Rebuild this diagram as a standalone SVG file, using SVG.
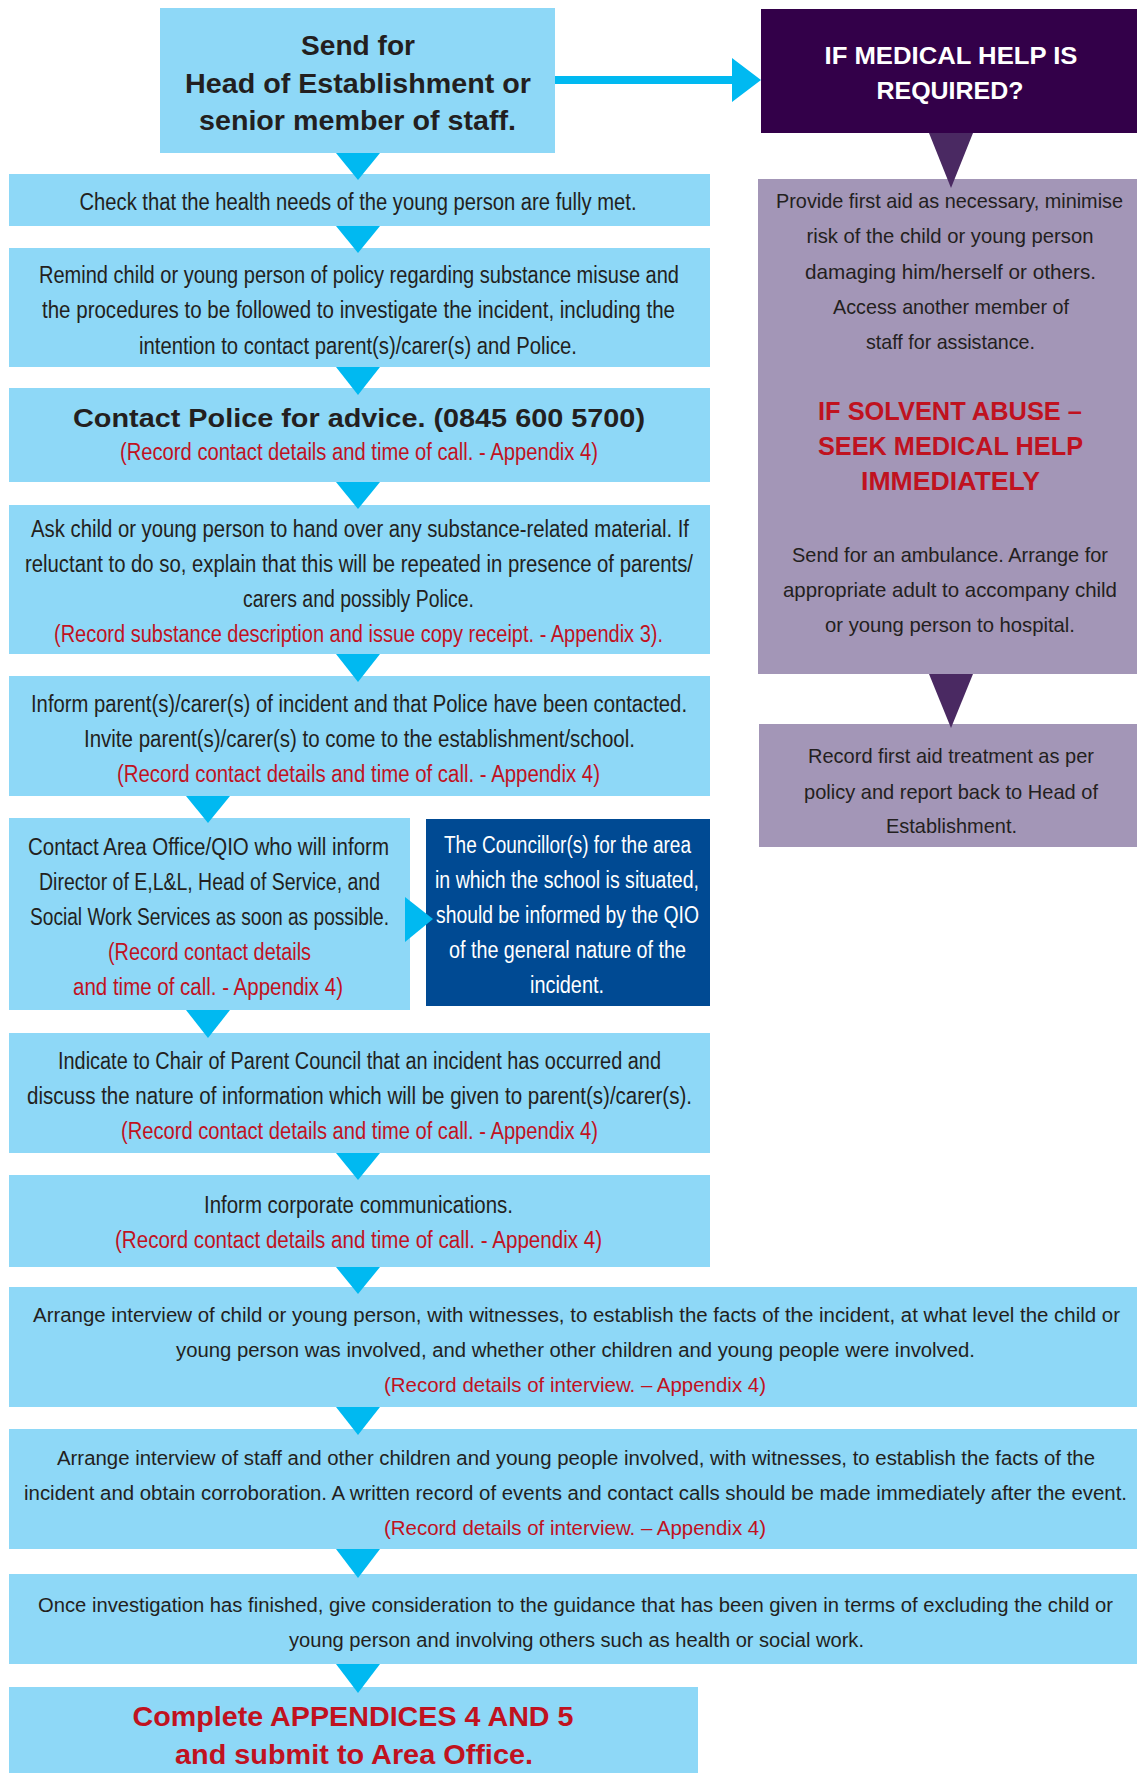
<svg xmlns="http://www.w3.org/2000/svg" width="1137" height="1773" viewBox="0 0 1137 1773">
<style>
.box{fill:#8ed8f7}
.lilac{fill:#a396b7}
.t{font-family:"Liberation Sans Narrow","Liberation Sans",Arial,sans-serif;font-size:23px;fill:#231f20;text-anchor:middle}
.r{fill:#c0121f}
.w{fill:#ffffff}
.b{font-weight:bold}
.big{font-size:28px}
.md{font-size:25px}
.pu{font-size:21px}
.sm{font-size:20px}
.tri{fill:#00b9f1}
.ptri{fill:#4a2962}
</style>
<rect width="1137" height="1773" fill="#ffffff"/>

<g id="n-send">
<rect class="box" x="160" y="8" width="395" height="145"/>
<text class="t b big" x="358" y="55" textLength="114" lengthAdjust="spacingAndGlyphs">Send for</text>
<text class="t b big" x="358" y="93" textLength="346" lengthAdjust="spacingAndGlyphs">Head of Establishment or</text>
<text class="t b big" x="357.5" y="130" textLength="317" lengthAdjust="spacingAndGlyphs">senior member of staff.</text>
</g>

<g id="n-medical">
<rect x="761" y="9" width="376" height="124" fill="#330049"/>
<text class="t b w" x="951" y="64" textLength="253" lengthAdjust="spacingAndGlyphs">IF MEDICAL HELP IS</text>
<text class="t b w" x="950" y="99" textLength="147" lengthAdjust="spacingAndGlyphs">REQUIRED?</text>
</g>

<g id="n-check">
<rect class="box" x="9" y="174" width="701" height="52"/>
<text class="t" x="358" y="210" textLength="557" lengthAdjust="spacingAndGlyphs">Check that the health needs of the young person are fully met.</text>
</g>

<g id="n-remind">
<rect class="box" x="9" y="248" width="701" height="119"/>
<text class="t" x="359" y="283" textLength="640" lengthAdjust="spacingAndGlyphs">Remind child or young person of policy regarding substance misuse and</text>
<text class="t" x="358.5" y="318" textLength="633" lengthAdjust="spacingAndGlyphs">the procedures to be followed to investigate the incident, including the</text>
<text class="t" x="358" y="354" textLength="438" lengthAdjust="spacingAndGlyphs">intention to contact parent(s)/carer(s) and Police.</text>
</g>

<g id="n-police">
<rect class="box" x="9" y="388" width="701" height="94"/>
<text class="t b md" x="359" y="427" textLength="572" lengthAdjust="spacingAndGlyphs">Contact Police for advice. (0845 600 5700)</text>
<text class="t r" x="359" y="460" textLength="478" lengthAdjust="spacingAndGlyphs">(Record contact details and time of call. - Appendix 4)</text>
</g>

<g id="n-ask">
<rect class="box" x="9" y="505" width="701" height="149"/>
<text class="t" x="360" y="537" textLength="658" lengthAdjust="spacingAndGlyphs">Ask child or young person to hand over any substance-related material.  If</text>
<text class="t" x="359" y="572" textLength="668" lengthAdjust="spacingAndGlyphs">reluctant to do so, explain that this will be repeated in presence of parents/</text>
<text class="t" x="358.5" y="607" textLength="231" lengthAdjust="spacingAndGlyphs">carers and possibly Police.</text>
<text class="t r" x="358.5" y="642" textLength="609" lengthAdjust="spacingAndGlyphs">(Record substance description and issue copy receipt.  - Appendix 3).</text>
</g>

<g id="n-inform">
<rect class="box" x="9" y="676" width="701" height="120"/>
<text class="t" x="359" y="712" textLength="656" lengthAdjust="spacingAndGlyphs">Inform parent(s)/carer(s) of incident and that Police have been contacted.</text>
<text class="t" x="359.5" y="747" textLength="551" lengthAdjust="spacingAndGlyphs">Invite parent(s)/carer(s) to come to the establishment/school.</text>
<text class="t r" x="358.5" y="782" textLength="483" lengthAdjust="spacingAndGlyphs">(Record contact details and time of call. -  Appendix 4)</text>
</g>

<g id="n-area">
<rect class="box" x="9" y="818" width="401" height="192"/>
<text class="t" x="208.5" y="855" textLength="361" lengthAdjust="spacingAndGlyphs">Contact Area Office/QIO who will  inform</text>
<text class="t" x="209.5" y="890" textLength="341" lengthAdjust="spacingAndGlyphs">Director of E,L&amp;L, Head of Service, and</text>
<text class="t" x="209.5" y="925" textLength="359" lengthAdjust="spacingAndGlyphs">Social Work Services as soon as possible.</text>
<text class="t r" x="209.5" y="960" textLength="203" lengthAdjust="spacingAndGlyphs">(Record contact details</text>
<text class="t r" x="208" y="995" textLength="270" lengthAdjust="spacingAndGlyphs">and time of call. - Appendix 4)</text>
</g>

<g id="n-councillor">
<rect x="426" y="819" width="284" height="187" fill="#004a93"/>
<text class="t w" x="567.5" y="853" textLength="247" lengthAdjust="spacingAndGlyphs">The Councillor(s) for the area</text>
<text class="t w" x="567" y="888" textLength="264" lengthAdjust="spacingAndGlyphs">in which the school is situated,</text>
<text class="t w" x="567.5" y="923" textLength="263" lengthAdjust="spacingAndGlyphs">should be informed by the QIO</text>
<text class="t w" x="567.5" y="958" textLength="237" lengthAdjust="spacingAndGlyphs">of the general nature of the</text>
<text class="t w" x="567" y="993" textLength="74" lengthAdjust="spacingAndGlyphs">incident.</text>
</g>

<g id="n-chair">
<rect class="box" x="9" y="1033" width="701" height="120"/>
<text class="t" x="359.5" y="1069" textLength="603" lengthAdjust="spacingAndGlyphs">Indicate to Chair of Parent Council that an incident has occurred and</text>
<text class="t" x="359.5" y="1104" textLength="665" lengthAdjust="spacingAndGlyphs">discuss the nature of information which will be given to parent(s)/carer(s).</text>
<text class="t r" x="359.5" y="1139" textLength="477" lengthAdjust="spacingAndGlyphs">(Record contact details and time of call. - Appendix 4)</text>
</g>

<g id="n-corporate">
<rect class="box" x="9" y="1175" width="701" height="92"/>
<text class="t" x="358.5" y="1213" textLength="309" lengthAdjust="spacingAndGlyphs">Inform corporate communications.</text>
<text class="t r" x="358.5" y="1248" textLength="487" lengthAdjust="spacingAndGlyphs">(Record contact details and time of call.  -  Appendix 4)</text>
</g>

<g id="n-interview-child">
<rect class="box" x="9" y="1287" width="1128" height="120"/>
<text class="t sm" x="576.5" y="1322" textLength="1087" lengthAdjust="spacingAndGlyphs">Arrange interview of child or young person, with witnesses, to establish the facts of the incident, at what level the child or</text>
<text class="t sm" x="575.5" y="1357" textLength="799" lengthAdjust="spacingAndGlyphs">young person was involved, and whether other children and young people were involved.</text>
<text class="t sm r" x="575" y="1392" textLength="382" lengthAdjust="spacingAndGlyphs">(Record details of interview. – Appendix 4)</text>
</g>

<g id="n-interview-staff">
<rect class="box" x="9" y="1429" width="1128" height="120"/>
<text class="t sm" x="576" y="1465" textLength="1038" lengthAdjust="spacingAndGlyphs">Arrange interview of staff and other children and young people involved, with witnesses, to establish the facts of the</text>
<text class="t sm" x="575.5" y="1500" textLength="1103" lengthAdjust="spacingAndGlyphs">incident and obtain corroboration. A written record of events and contact calls should be made immediately after the event.</text>
<text class="t sm r" x="575" y="1535" textLength="382" lengthAdjust="spacingAndGlyphs">(Record details of interview. – Appendix 4)</text>
</g>

<g id="n-once">
<rect class="box" x="9" y="1574" width="1128" height="90"/>
<text class="t sm" x="575.5" y="1612" textLength="1075" lengthAdjust="spacingAndGlyphs">Once investigation has finished, give consideration to the guidance that has been given in terms of excluding the child or</text>
<text class="t sm" x="576.5" y="1647" textLength="575" lengthAdjust="spacingAndGlyphs">young person and involving others such as health or social work.</text>
</g>

<g id="n-complete">
<rect class="box" x="9" y="1687" width="689" height="86"/>
<text class="t b big r" x="353" y="1726" textLength="441" lengthAdjust="spacingAndGlyphs">Complete APPENDICES  4 AND 5</text>
<text class="t b big r" x="354" y="1764" textLength="358" lengthAdjust="spacingAndGlyphs">and submit to Area Office.</text>
</g>

<g id="n-firstaid">
<rect class="lilac" x="758" y="179" width="379" height="495"/>
<text class="t pu" x="949.5" y="208" textLength="347" lengthAdjust="spacingAndGlyphs">Provide first aid as necessary, minimise</text>
<text class="t pu" x="950" y="243" textLength="287" lengthAdjust="spacingAndGlyphs">risk of the child or young person</text>
<text class="t pu" x="950.5" y="279" textLength="291" lengthAdjust="spacingAndGlyphs">damaging him/herself or others.</text>
<text class="t pu" x="951" y="314" textLength="236" lengthAdjust="spacingAndGlyphs">Access another member of</text>
<text class="t pu" x="950.5" y="349" textLength="169" lengthAdjust="spacingAndGlyphs">staff for assistance.</text>
<text class="t b md r" x="950" y="420" textLength="264" lengthAdjust="spacingAndGlyphs">IF SOLVENT ABUSE –</text>
<text class="t b md r" x="950.5" y="455" textLength="265" lengthAdjust="spacingAndGlyphs">SEEK MEDICAL HELP</text>
<text class="t b md r" x="950.5" y="490" textLength="179" lengthAdjust="spacingAndGlyphs">IMMEDIATELY</text>
<text class="t pu" x="950" y="562" textLength="316" lengthAdjust="spacingAndGlyphs">Send for an ambulance. Arrange for</text>
<text class="t pu" x="950" y="597" textLength="334" lengthAdjust="spacingAndGlyphs">appropriate adult to accompany child</text>
<text class="t pu" x="950" y="632" textLength="250" lengthAdjust="spacingAndGlyphs">or young person to hospital.</text>
</g>

<g id="n-record">
<rect class="lilac" x="759" y="724" width="378" height="123"/>
<text class="t pu" x="951" y="763" textLength="286" lengthAdjust="spacingAndGlyphs">Record first aid treatment as per</text>
<text class="t pu" x="951" y="799" textLength="294" lengthAdjust="spacingAndGlyphs">policy and report back to Head of</text>
<text class="t pu" x="951.5" y="833" textLength="131" lengthAdjust="spacingAndGlyphs">Establishment.</text>
</g>

<g id="connectors">
<path class="tri" d="M555 76H732V58L761 80L732 102V84H555Z"/>
<path class="tri" d="M336 153H380L358 180Z"/>
<path class="tri" d="M336 226H380L358 253Z"/>
<path class="tri" d="M336 367H380L358 395Z"/>
<path class="tri" d="M336 482H380L358 509Z"/>
<path class="tri" d="M336 654H380L358 682Z"/>
<path class="tri" d="M186 796H230L208 823Z"/>
<path class="tri" d="M405 897L433 919L405 942Z"/>
<path class="tri" d="M186 1010H230L208 1038Z"/>
<path class="tri" d="M336 1153H380L358 1180Z"/>
<path class="tri" d="M336 1267H380L358 1294Z"/>
<path class="tri" d="M336 1407H380L358 1435Z"/>
<path class="tri" d="M336 1549H380L358 1578Z"/>
<path class="tri" d="M336 1664H380L358 1693Z"/>
<path class="ptri" d="M929 133H973L951 188Z"/>
<path class="ptri" d="M929 674H973L951 728Z"/>
</g>
</svg>
